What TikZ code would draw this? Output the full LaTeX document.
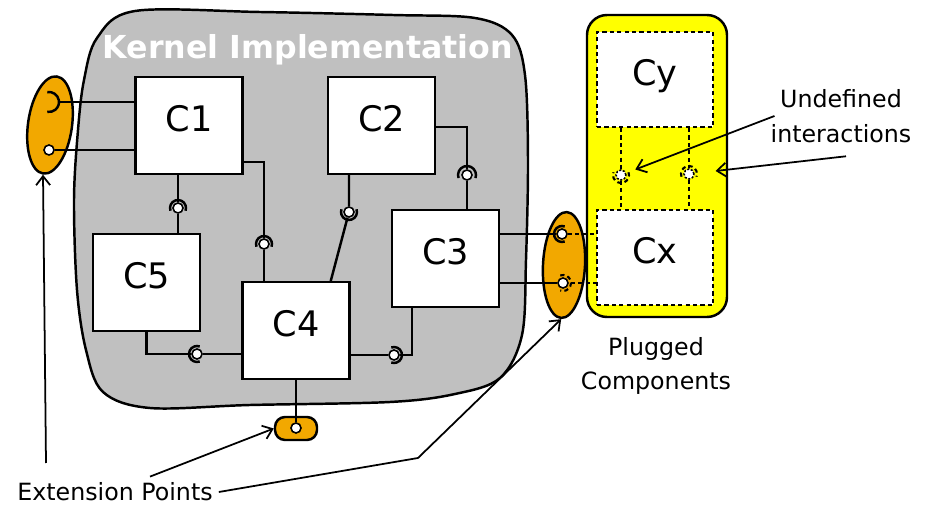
\documentclass[tikz,border=0pt]{standalone}
\usepackage{fontspec}
\setmainfont{DejaVu Sans}
\usetikzlibrary{shapes.geometric,arrows.meta}
\definecolor{kernelgray}{RGB}{192,192,192}
\definecolor{extorange}{RGB}{242,168,0}
\definecolor{plugyellow}{RGB}{255,255,0}
\tikzstyle{comp} = [draw, fill=white, line width=1.4pt, minimum width=21.4mm, minimum height=19.3mm, inner sep=0pt, font=\fontsize{20}{23}\selectfont, text height=14.5pt, text depth=8pt]
\tikzstyle{plugcomp} = [comp, line width=1.2pt, dash pattern=on 2.4pt off 1.8pt, minimum width=23.2mm, minimum height=19mm]
\tikzset{
  wire/.style={line width=1.4pt},
  plugwire/.style={line width=1.2pt, dash pattern=on 2.4pt off 1.8pt},
  pointer/.style={line width=1pt, -{Straight Barb[length=1.8mm,width=2.8mm]}},
  ball/.style={circle, draw, fill=white, line width=0.9pt, minimum size=2mm, inner sep=0pt},
  plugball/.style={ball, dash pattern=on 1.2pt off 0.9pt},
  ext/.style={draw, fill=extorange, line width=1.4pt, inner sep=0pt},
  note/.style={font=\fontsize{13.5}{19.8}\selectfont, align=center}
}

\begin{document}
\begin{tikzpicture}[x=0.2mm, y=-0.2mm]
	\useasboundingbox (0,0) rectangle (930,506);

	% kernel area
	\draw[line width=1.4pt, fill=kernelgray] plot[smooth cycle, tension=0.55] coordinates {
		(84,80) (97,38) (135,11) (260,12) (393,15) (475,18) (512,35) (525,75)
		(528,160) (526,260) (522,335) (500,378) (455,394) (390,402) (250,405)
		(150,408) (103,392) (86,350) (77,290) (74,200) (78,130)};
	\node[font=\fontsize{18}{21}\selectfont\bfseries, text=white] (kernel) at (308,50) {Kernel Implementation};

	% plugged area
	\draw[line width=1.4pt, fill=plugyellow, rounded corners=4mm] (587,15) rectangle (727,317);

	% extension points
	\node[ext, ellipse, minimum width=8.8mm, minimum height=19.6mm, rotate=-8] (extL) at (50,125) {};
	\node[ext, ellipse, minimum width=8.4mm, minimum height=21.2mm, rotate=-3] (extR) at (564,265) {};
	\node[ext, rounded corners=2mm, minimum width=8.4mm, minimum height=4.6mm] (extB) at (296,428.5) {};

	% components
	\node[comp] (C1) at (189,125.5) {C1};
	\node[comp] (C2) at (381.5,125.5) {C2};
	\node[comp] (C3) at (445.5,258.5) {C3};
	\node[comp] (C5) at (146.5,282.5) {C5};
	\node[comp] (C4) at (296,330.5) {C4};
	\node[plugcomp] (Cy) at (655,79.5) {Cy};
	\node[plugcomp] (Cx) at (655,257.5) {Cx};

	% interfaces
	\node[ball] (s15) at (178,208) {};
	\node[ball] (s14) at (264,244) {};
	\node[ball] (s24) at (349,212) {};
	\node[ball] (s23) at (467,175) {};
	\node[ball] (s54) at (197,354) {};
	\node[ball] (s43) at (394,355) {};
	\node[ball] (bL) at (49,150) {};
	\coordinate (sL) at (49,102);
	\node[ball] (bB) at (296,428) {};
	\node[ball] (bR1) at (562,234) {};
	\node[ball] (bR2) at (563,283) {};
	\node[plugball] (bU1) at (621,175) {};
	\node[plugball] (bU2) at (689,174) {};

	% wires inside the kernel
	\draw[wire] (C1.south -| s15) -- (s15) -- (C5.north -| s15);
	\draw[wire] (C1.east |- 0,162) -| (s14) -- (C4.north -| s14);
	\draw[wire] (C2.south -| s24) -- (s24) -- ([xshift=-4mm]C4.north east);
	\draw[wire] (C2.east |- 0,127) -| (s23) -- (C3.north -| s23);
	\draw[wire] (C5.south) |- (s54) -- (C4.west |- s54);
	\draw[wire] (C4.east |- s43) -- (s43) -| ([xshift=4.2mm]C3.south west);

	% wires to the extension points
	\draw[wire] (C1.west |- sL) -- ([xshift=2mm]sL);
	\draw[wire] (C1.west |- bL) -- (bL);
	\draw[wire] (C4.south) -- (bB);
	\draw[wire] (C3.east |- bR1) -- (bR1);
	\draw[wire] (C3.east |- bR2) -- (bR2);
	\draw[plugwire] (bR1) -- (Cx.west |- bR1);
	\draw[plugwire] ([xshift=1.6mm]bR2.center) -- (Cx.west |- bR2);
	\draw[plugwire] (Cy.south -| bU1) -- (bU1) -- (Cx.north -| bU1);
	\draw[plugwire] (Cy.south -| bU2) -- (bU2) -- (Cx.north -| bU2);

	% sockets
	\draw[wire] ([shift={(160:8)}]s15.center) arc[start angle=160, end angle=380, radius=8];
	\draw[wire] ([shift={(160:8)}]s14.center) arc[start angle=160, end angle=380, radius=8];
	\draw[wire] ([shift={(-20:8)}]s24.center) arc[start angle=-20, end angle=200, radius=8];
	\draw[wire] ([shift={(160:9)}]s23.center) arc[start angle=160, end angle=380, radius=9];
	\draw[wire] ([shift={(70:8)}]s54.center) arc[start angle=70, end angle=290, radius=8];
	\draw[wire] ([shift={(-110:8)}]s43.center) arc[start angle=-110, end angle=110, radius=8];
	\draw[wire] ([shift={(-100:10)}]sL) arc[start angle=-100, end angle=100, radius=10];
	\draw[wire] ([shift={(70:8)}]bR1.center) arc[start angle=70, end angle=290, radius=8];
	\draw[plugwire] ([shift={(-110:8)}]bR2.center) arc[start angle=-110, end angle=110, radius=8];
	\draw[plugwire] ([shift={(-20:8)}]bU1.center) arc[start angle=-20, end angle=200, radius=8];
	\draw[plugwire] ([shift={(160:8)}]bU2.center) arc[start angle=160, end angle=380, radius=8];

	% labels
	\node[note] (ud) at (841,116) {Undefined\\interactions};
	\node[note] (pc) at (656,366) {Plugged\\Components};
	\node[note] (ep) at (115,492) {Extension Points};
	\coordinate (epl) at (46,463);
	\coordinate (bend) at (418,458);

	\draw[pointer, shorten >=1.9mm] ([xshift=2mm]ud.west) -- (bU1);
	\draw[pointer, shorten >=4.2mm] ([shift={(1mm,-1.5mm)}]ud.south) -- (bU2);
	\draw[pointer] (epl) -- (extL.south);
	\draw[pointer] ([xshift=7mm]ep.north) -- (extB.west);
	\draw[pointer] (ep.east) -- (bend) -- (extR.south);

\end{tikzpicture}
\end{document}
